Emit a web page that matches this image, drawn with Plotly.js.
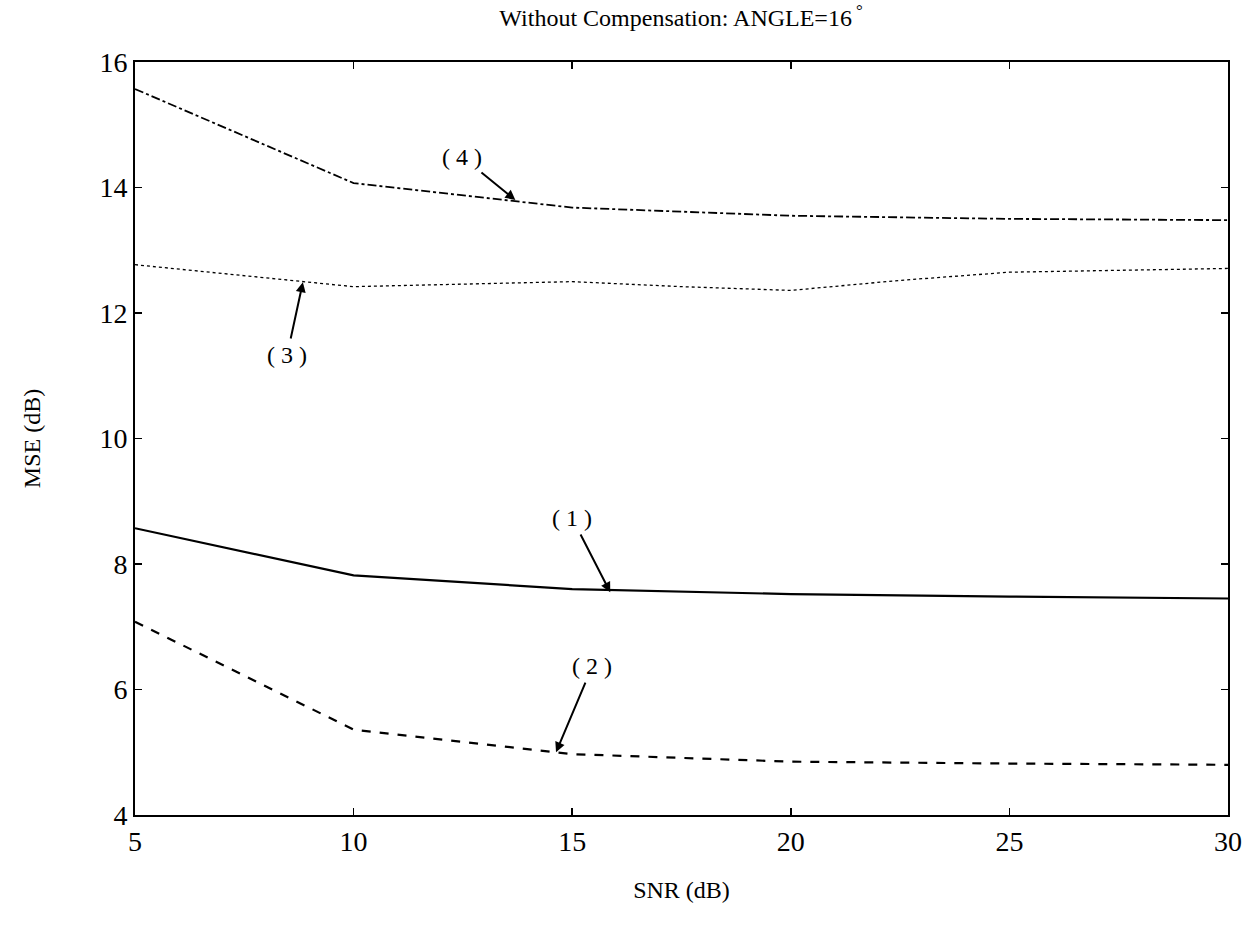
<!DOCTYPE html>
<html>
<head>
<meta charset="utf-8">
<script src="https://cdn.plot.ly/plotly-3.0.1.min.js"></script>
<style>html,body{margin:0;padding:0;background:#fff;}#chart{width:1252px;height:928px;}</style>
</head>
<body>
<div id="chart"></div>
<script>
// Data
const snr = [5, 10, 15, 20, 25, 30];
const curve1 = [8.57, 7.82, 7.6, 7.52, 7.48, 7.45];
const curve2 = [7.08, 5.36, 4.97, 4.85, 4.82, 4.8];
const snr3 = [5, 10, 15, 17.5, 20, 22.5, 25, 30];
const curve3 = [12.77, 12.42, 12.5, 12.42, 12.36, 12.52, 12.65, 12.71];
const curve4 = [15.57, 14.07, 13.68, 13.55, 13.5, 13.48];

const labels = ["( 1 )", "( 2 )", "( 3 )", "( 4 )"];
const labelPos = [[15.0, 8.73], [15.46, 6.37], [8.48, 11.33], [12.48, 14.49]];
const arrowHead = [[15.87, 7.55], [14.63, 5.0], [8.84, 12.49], [13.7, 13.8]];

const serif = "Liberation Serif, Times New Roman, serif";

const traces = [
  {x: snr, y: curve1, mode: "lines", line: {color: "#000", width: 2.2, dash: "solid"}},
  {x: snr, y: curve2, mode: "lines", line: {color: "#000", width: 2.2, dash: "dash"}},
  {x: snr3, y: curve3, mode: "lines", line: {color: "#000", width: 1.3, dash: "dot"}},
  {x: snr, y: curve4, mode: "lines", line: {color: "#000", width: 1.8, dash: "dashdot"}}
];

const annotations = labels.map((t, i) => ({
  x: arrowHead[i][0], y: arrowHead[i][1], xref: "x", yref: "y",
  ax: labelPos[i][0], ay: labelPos[i][1], axref: "x", ayref: "y",
  text: t, showarrow: true, arrowhead: 2, arrowsize: 1, arrowwidth: 2,
  arrowcolor: "#000", standoff: 0, startstandoff: 2,
  font: {family: serif, size: 24, color: "#000"}
}));

const layout = {
  width: 1252, height: 928,
  margin: {l: 135, r: 24, t: 62, b: 113},
  paper_bgcolor: "#fff", plot_bgcolor: "#fff",
  showlegend: false,
  title: {text: "Without Compensation: ANGLE=16<sup> °</sup>", x: 0.544, xanchor: "center", y: 0.99, yanchor: "top",
          font: {family: serif, size: 24, color: "#000"}},
  xaxis: {
    range: [5, 30], tickvals: [5, 10, 15, 20, 25, 30], ticks: "inside", ticklen: 7, tickwidth: 1.5,
    tickcolor: "#000", showline: true, linecolor: "#000", linewidth: 2, mirror: "ticks",
    showgrid: false, zeroline: false,
    tickfont: {family: serif, size: 28, color: "#000"},
    title: {text: "SNR (dB)", font: {family: serif, size: 24, color: "#000"}, standoff: 26}
  },
  yaxis: {
    range: [4, 16], tickvals: [4, 6, 8, 10, 12, 14, 16], ticks: "inside", ticklen: 7, tickwidth: 1.5,
    tickcolor: "#000", showline: true, linecolor: "#000", linewidth: 2, mirror: "ticks",
    showgrid: false, zeroline: false,
    tickfont: {family: serif, size: 28, color: "#000"},
    title: {text: "MSE (dB)", font: {family: serif, size: 24, color: "#000"}, standoff: 52}
  },
  annotations: annotations
};

Plotly.newPlot("chart", traces, layout, {displayModeBar: false, staticPlot: true});
</script>
</body>
</html>
